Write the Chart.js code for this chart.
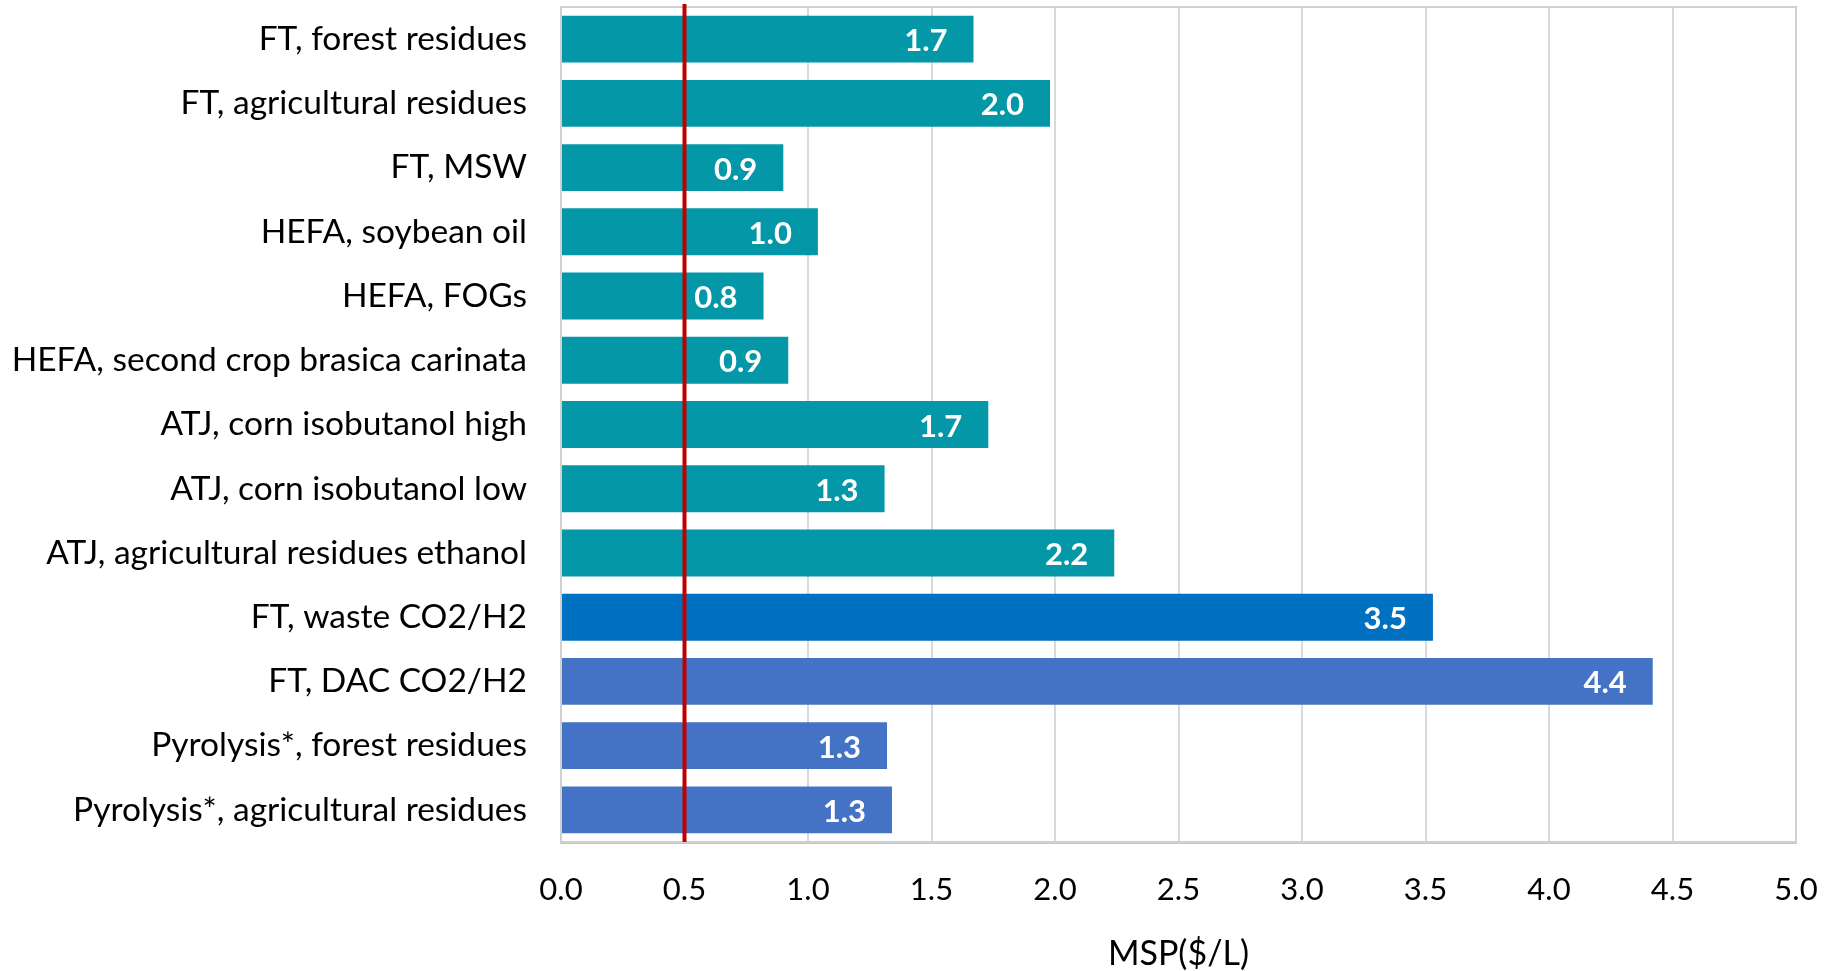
<!DOCTYPE html>
<html>
<head>
<meta charset="utf-8">
<title>MSP by pathway</title>
<script src="https://cdn.jsdelivr.net/npm/chart.js@4/dist/chart.umd.min.js"></script>
<style>
  html, body { margin: 0; padding: 0; background: #ffffff; }
  canvas { display: block; }
</style>
</head>
<body>
<canvas id="msp" width="1825" height="971"></canvas>
<script>
// Pathway / feedstock combinations, top to bottom
const pathways = [
  "FT, forest residues",
  "FT, agricultural residues",
  "FT, MSW",
  "HEFA, soybean oil",
  "HEFA, FOGs",
  "HEFA, second crop brasica carinata",
  "ATJ, corn isobutanol high",
  "ATJ, corn isobutanol low",
  "ATJ, agricultural residues ethanol",
  "FT, waste CO2/H2",
  "FT, DAC CO2/H2",
  "Pyrolysis*, forest residues",
  "Pyrolysis*, agricultural residues"
];

// Minimum selling price, $/L
const mspValues = [1.67, 1.98, 0.90, 1.04, 0.82, 0.92, 1.73, 1.31, 2.24, 3.53, 4.42, 1.32, 1.34];

// Reference price marker, $/L
const referencePrice = 0.5;

// x-axis range and tick step
const xMin = 0;
const xMax = 5;
const xStep = 0.5;

const TEAL = "#0397A7";
const BLUE = "#0070C0";
const STEEL = "#4472C4";
const barColors = [TEAL, TEAL, TEAL, TEAL, TEAL, TEAL, TEAL, TEAL, TEAL, BLUE, STEEL, STEEL, STEEL];

const FONT = "Lato, 'Open Sans', 'Liberation Sans', sans-serif";

// Plot frame, red reference line and value labels
const decorations = {
  id: "decorations",
  beforeDatasetsDraw(chart) {
    const { ctx, chartArea: a } = chart;
    ctx.save();
    ctx.strokeStyle = "#D0D0D0";
    ctx.lineWidth = 2;
    ctx.strokeRect(a.left, a.top, a.right - a.left, a.bottom - a.top);
    ctx.restore();
  },
  afterDatasetsDraw(chart) {
    const { ctx, chartArea: a } = chart;
    const meta = chart.getDatasetMeta(0);
    const data = chart.data.datasets[0].data;
    ctx.save();
    ctx.fillStyle = "#ffffff";
    ctx.font = "bold 31px " + FONT;
    ctx.textAlign = "right";
    ctx.textBaseline = "middle";
    meta.data.forEach((bar, i) => {
      ctx.fillText(data[i].toFixed(1), bar.x - 26, bar.y + 2);
    });
    const x = chart.scales.x.getPixelForValue(referencePrice);
    ctx.strokeStyle = "#C00000";
    ctx.lineWidth = 4;
    ctx.beginPath();
    ctx.moveTo(x, a.top - 3);
    ctx.lineTo(x, a.bottom);
    ctx.stroke();
    ctx.restore();
  }
};

new Chart(document.getElementById("msp"), {
  type: "bar",
  data: {
    labels: pathways,
    datasets: [{
      data: mspValues,
      backgroundColor: barColors,
      borderWidth: 0,
      barPercentage: 0.73,
      categoryPercentage: 1.0
    }]
  },
  options: {
    indexAxis: "y",
    responsive: false,
    animation: false,
    devicePixelRatio: 1,
    layout: { padding: { top: 7, right: 29, left: 0, bottom: 0 } },
    plugins: {
      legend: { display: false },
      tooltip: { enabled: false },
      title: { display: false }
    },
    scales: {
      x: {
        min: xMin,
        max: xMax,
        grid: { color: "#D9D9D9", lineWidth: 2, drawTicks: false },
        border: { color: "#C4C4C4", width: 3 },
        ticks: {
          stepSize: xStep,
          padding: 29,
          color: "#000000",
          font: { family: FONT, size: 31 },
          maxRotation: 0,
          callback: (v) => Number(v).toFixed(1)
        },
        title: {
          display: true,
          text: "MSP($/L)",
          color: "#000000",
          font: { family: FONT, size: 34 },
          padding: { top: 0, bottom: -3 }
        },
        afterFit(scale) {
          scale.height = 129;
          scale.paddingLeft = 0;
          scale.paddingRight = 0;
        }
      },
      y: {
        grid: { display: false, drawTicks: false },
        border: { color: "#D9D9D9", width: 2 },
        ticks: {
          padding: 34,
          color: "#000000",
          font: { family: FONT, size: 33.5 },
          autoSkip: false
        },
        afterFit(scale) {
          scale.width = 561;
          scale.paddingTop = 0;
          scale.paddingBottom = 0;
        }
      }
    }
  },
  plugins: [decorations]
});
</script>
</body>
</html>
